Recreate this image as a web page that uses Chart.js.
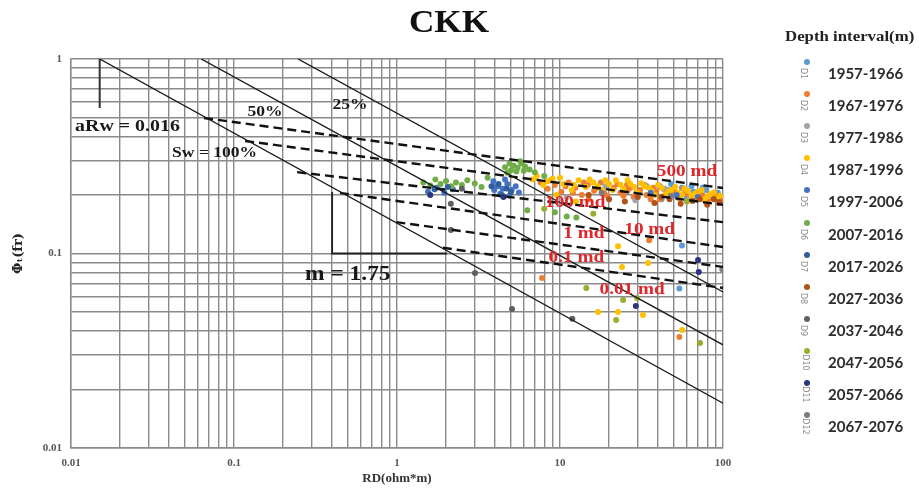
<!DOCTYPE html>
<html>
<head>
<meta charset="utf-8">
<title>CKK Pickett plot</title>
<script src="https://cdn.jsdelivr.net/npm/chart.js@4.4.0/dist/chart.umd.min.js"></script>
<style>
  html, body { margin: 0; padding: 0; background: #fff; }
  #wrap { position: relative; width: 919px; height: 490px; overflow: hidden; }
  #legendTitle {
    position: absolute; left: 785px; top: 29px; white-space: nowrap;
    font: bold 14px "Liberation Serif", serif; color: #222;
    transform: scaleX(1.2); transform-origin: left center;
  }
  .lg-dot { position: absolute; width: 6px; height: 6px; border-radius: 50%; }
  .lg-code {
    position: absolute; font: 8px "DejaVu Sans", sans-serif; color: #8a8a8a;
    transform: rotate(90deg); transform-origin: center center; white-space: nowrap;
  }
  .lg-label {
    position: absolute; font: bold 15px Lato, sans-serif; color: #2b2b2b; white-space: nowrap;
  }
</style>
</head>
<body>
<div id="wrap">
  <canvas id="pickett" width="919" height="490"></canvas>
  <div id="legendTitle">Depth interval(m)</div>
  <div id="legendBox"></div>
</div>
<script>
// depth intervals (legend)
const depthLabels = ["1957-1966", "1967-1976", "1977-1986", "1987-1996", "1997-2006", "2007-2016",
                     "2017-2026", "2027-2036", "2037-2046", "2047-2056", "2057-2066", "2067-2076"];
const depthCodes = ["D1", "D2", "D3", "D4", "D5", "D6", "D7", "D8", "D9", "D10", "D11", "D12"];
const depthColors = ["#5b9bd5", "#ed7d31", "#a5a5a5", "#ffc000", "#4472c4", "#70ad47",
                     "#2f5f9e", "#b0521a", "#5f5f5f", "#9aad2e", "#2a3480", "#7d7d7d"];

// [RD (ohm*m), phi (fr)]
const d01 = [[26,0.215],[30,0.2],[34,0.222],[38,0.205],[42,0.19],[46,0.212],[51,0.2],[56,0.218],[60,0.195],
             [66,0.208],[72,0.2],[79,0.212],[86,0.196],[93,0.205],[48,0.228],[64,0.222],[41,0.222],[75,0.218],
             [56,0.11],[54,0.066]];
const d02 = [[7.6,0.232],[8.4,0.215],[9.3,0.225],[10.2,0.208],[11.3,0.232],[12.4,0.218],[13.6,0.2],[14.8,0.225],
             [16.2,0.21],[17.8,0.232],[19.5,0.198],[21.4,0.218],[23.5,0.205],[25.8,0.226],[28.3,0.195],[31,0.212],
             [34,0.2],[37.5,0.218],[41,0.19],[45,0.205],[49.5,0.212],[54,0.192],[59,0.205],[65,0.188],[71,0.198],
             [78,0.185],[86,0.195],[94,0.182],[26,0.21],[15,0.19],
             [8.8,0.238],[10.8,0.222],[12,0.205],[14,0.232],[17,0.218],[18.6,0.205],[22.5,0.228],[24.5,0.198],
             [27,0.218],[29.5,0.205],[33,0.225],[36,0.19],[39,0.208],[43,0.215],[47,0.198],[52,0.205],[57,0.215],
             [62,0.196],[68,0.205],[75,0.2],[82,0.19],[90,0.2],[97,0.19],
             [7.76,0.0748],[35.2,0.117],[54,0.0372]];
const d03 = [[11,0.195],[19,0.222],[29,0.188],[44,0.215],[62,0.19],[83,0.2]];
const d04 = [[6.8,0.24],[7.9,0.225],[9.0,0.242],[10.5,0.228],[11.8,0.212],[13,0.238],[14.4,0.22],[16,0.232],
             [18,0.212],[20,0.228],[22,0.238],[24.5,0.215],[27,0.228],[30,0.205],[33,0.222],[36.5,0.21],[40,0.225],
             [44,0.2],[48,0.212],[53,0.205],[58,0.215],[64,0.198],[70,0.208],[77,0.19],[84,0.203],[92,0.192],
             [12.5,0.185],[9.5,0.2],
             [7.2,0.25],[8.4,0.235],[10,0.245],[12.2,0.225],[15.2,0.24],[17,0.222],[19,0.238],[21,0.212],
             [23.5,0.226],[26,0.238],[28.5,0.22],[31.5,0.23],[35,0.218],[38,0.2],[42,0.218],[46,0.208],[51,0.22],
             [56,0.2],[61,0.21],[67,0.202],[74,0.212],[80,0.196],[88,0.206],[96,0.198],
             [22.7,0.109],[24,0.0853],[17.1,0.05],[22.7,0.05],[32.3,0.0483],[34.7,0.0894],[56.2,0.0404]];
const d05 = [[1.55,0.208],[1.75,0.218],[1.95,0.205],[2.2,0.214],[3.9,0.235],[4.15,0.222],[4.45,0.215],[4.75,0.228],
             [5.05,0.212],[5.35,0.222],[4.3,0.203],[3.95,0.212],[4.9,0.198],[5.6,0.206],[4.6,0.24],[36,0.205],
             [52,0.2],[70,0.195]];
const d06 = [[1.45,0.232],[1.6,0.224],[1.72,0.24],[1.85,0.228],[2.0,0.236],[2.15,0.222],[2.3,0.232],[2.5,0.225],
             [2.7,0.238],[3.0,0.229],[3.3,0.22],[3.6,0.245],[4.6,0.278],[4.9,0.29],[5.2,0.283],[5.5,0.276],[5.8,0.29],
             [6.1,0.28],[6.5,0.27],[5.0,0.268],[5.4,0.264],[6.0,0.266],[7.0,0.262],[4.75,0.26],[5.7,0.298],[8,0.25],
             [6.3,0.167],[9.3,0.163],[11,0.155],[12.6,0.153]];
const d07 = [[1.7,0.214],[2.05,0.22],[4.4,0.2],[4.7,0.216],[5.0,0.207],[4.2,0.228],[3.8,0.222]];
const d08 = [[15,0.2],[20,0.19],[25,0.185],[30,0.195],[38,0.182],[42,0.196],[47,0.19],[55,0.18],[65,0.186],
             [72,0.19],[80,0.178],[88,0.19],[95,0.184]];
const d09 = [[3.01,0.0794],[5.08,0.0518],[11.9,0.0462],[2.14,0.18],[2.14,0.132],[2.5,0.215]];
const d10 = [[14.5,0.0665],[24.4,0.0577],[29.7,0.059],[22.1,0.0455],[72.3,0.0347],[8,0.17],[16,0.16],[60,0.185]];
const d11 = [[29.2,0.0537],[70.3,0.0926],[71,0.0804],[1.6,0.2],[4.5,0.195]];
const d12 = [[18,0.205],[48,0.198],[99,0.083]];
const depthSeries = [d01, d02, d03, d04, d05, d06, d07, d08, d09, d10, d11, d12];

// Sw lines (100%, 50%, 25%)
const swStartRD = [0.015, 0.0629, 0.247];
const swStartPhi = [1, 1, 1];
const swEndRD = [100, 100, 100];
const swEndPhi = [0.0170, 0.0339, 0.0634];

// permeability lines (500, 100, 10, 1, 0.1, 0.01 md)
const permStartRD = [0.0655, 0.117, 0.244, 0.447, 0.99, 1.91];
const permStartPhi = [0.497, 0.379, 0.262, 0.205, 0.145, 0.107];
const permEndRD = [100, 100, 100, 100, 100, 100];
const permEndPhi = [0.217, 0.178, 0.145, 0.108, 0.0853, 0.0665];

// aRw marker and slope triangle
const aRwRD = [0.015, 0.015];
const aRwPhi = [1, 0.56];
const mRD = [0.40, 0.40, 2.03];
const mPhi = [0.207, 0.1, 0.1];

// text notes
const noteText = ["aRw = 0.016", "Sw = 100%", "50%", "25%", "m = 1.75"];
const noteRD = [0.0106, 0.0417, 0.155, 0.515, 0.273];
const notePhi = [0.447, 0.329, 0.534, 0.58, 0.0775];
const noteAlign = ["left", "left", "center", "center", "left"];
const noteSize = [17, 15, 15, 15, 20];
const mdText = ["500 md", "100 md", "10 md", "1 md", "0.1 md", "0.01 md"];
const mdRD = [60.1, 12.4, 35.5, 14.0, 12.6, 27.7];
const mdPhi = [0.262, 0.182, 0.133, 0.126, 0.0948, 0.065];

// axis ticks
const decadeStarts = [0.01, 0.1, 1, 10];
const decadeSteps = [1, 2, 3, 4, 5, 6, 7, 8, 9];

function logTicks(maxVal) {
    const list = [];
    decadeStarts.forEach(d => {
        decadeSteps.forEach(s => {
            const v = Number((d * s).toPrecision(3));
            if (v <= maxVal) list.push({ value: v });
        });
    });
    if (list[list.length - 1].value < maxVal) list.push({ value: maxVal });
    return list;
}

function isDecade(v) {
    const l = Math.log10(v);
    return Math.abs(l - Math.round(l)) < 1e-9;
}

const pts = arr => arr.map(p => ({ x: p[0], y: p[1] }));

const datasets = [];
// lines go on top of the points (lower order = drawn later)
swStartRD.forEach((v, i) => {
    datasets.push({
        data: [{ x: v, y: swStartPhi[i] }, { x: swEndRD[i], y: swEndPhi[i] }],
        showLine: true, borderColor: "#1b1b1b", borderWidth: 1.4, pointRadius: 0, order: 1
    });
});
permStartRD.forEach((v, i) => {
    datasets.push({
        data: [{ x: v, y: permStartPhi[i] }, { x: permEndRD[i], y: permEndPhi[i] }],
        showLine: true, borderColor: "#111", borderWidth: 2.4, borderDash: [9, 5], pointRadius: 0, order: 1
    });
});
datasets.push({
    data: aRwRD.map((v, i) => ({ x: v, y: aRwPhi[i] })),
    showLine: true, borderColor: "#333", borderWidth: 2, pointRadius: 0, order: 1
});
datasets.push({
    data: mRD.map((v, i) => ({ x: v, y: mPhi[i] })),
    showLine: true, borderColor: "#222", borderWidth: 1.8, pointRadius: 0, order: 1
});
depthSeries.forEach((s, i) => {
    datasets.push({
        label: depthLabels[i],
        data: pts(s),
        showLine: false,
        backgroundColor: depthColors[i],
        borderColor: depthColors[i],
        pointRadius: 3,
        pointBorderWidth: 0,
        order: 30 - i
    });
});

const notesPlugin = {
    id: "notes",
    afterDatasetsDraw(chart) {
        const { ctx } = chart;
        const xs = chart.scales.x, ys = chart.scales.y;
        const put = (text, px, py, align, size, color, sx) => {
            ctx.save();
            ctx.translate(px, py);
            ctx.scale(sx, 1);
            ctx.font = "bold " + size + "px 'Liberation Serif', serif";
            ctx.fillStyle = color;
            ctx.textAlign = align;
            ctx.textBaseline = "middle";
            ctx.fillText(text, 0, 0);
            ctx.restore();
        };
        noteText.forEach((t, i) => {
            put(t, xs.getPixelForValue(noteRD[i]), ys.getPixelForValue(notePhi[i]), noteAlign[i], noteSize[i], "#1a1a1a", 1.17);
        });
        mdText.forEach((t, i) => {
            put(t, xs.getPixelForValue(mdRD[i]), ys.getPixelForValue(mdPhi[i]), "center", 16, "#e0262a", 1.2);
        });
        // chart title
        put("CKK", 449, 24, "center", 32, "#111", 1.1);
    }
};

const tickFont = { family: "'Liberation Serif', serif", size: 11, weight: "bold" };

new Chart(document.getElementById("pickett"), {
    type: "scatter",
    data: { datasets },
    options: {
        responsive: false,
        animation: false,
        devicePixelRatio: 1,
        layout: { padding: { left: 0, right: 196, top: 59, bottom: 0 } },
        plugins: { legend: { display: false }, tooltip: { enabled: false }, title: { display: false } },
        scales: {
            x: {
                type: "logarithmic",
                min: 0.01, max: 100,
                afterBuildTicks: s => { s.ticks = logTicks(100); },
                afterFit: s => { s.height = 42; },
                grid: { color: "#8a8a8a", lineWidth: 1.4, drawTicks: false },
                border: { color: "#8a8a8a", width: 1.4 },
                ticks: {
                    autoSkip: false, maxRotation: 0, padding: 9, color: "#555", font: tickFont,
                    callback: v => (isDecade(v) ? String(v) : "")
                },
                title: {
                    display: true, text: "RD(ohm*m)", color: "#333",
                    font: { family: "'Liberation Serif', serif", size: 13, weight: "bold" },
                    padding: { top: 0, bottom: 4 }
                }
            },
            y: {
                type: "logarithmic",
                min: 0.01, max: 1,
                afterBuildTicks: s => { s.ticks = logTicks(1); },
                afterFit: s => { s.width = 71; },
                grid: { color: "#8a8a8a", lineWidth: 1.4, drawTicks: false },
                border: { color: "#8a8a8a", width: 1.4 },
                ticks: {
                    autoSkip: false, padding: 9, color: "#555", font: tickFont,
                    callback: v => (isDecade(v) ? String(v) : "")
                },
                title: {
                    display: true, text: "Φₜ(fr)", color: "#222",
                    font: { family: "'DejaVu Serif', serif", size: 13, weight: "bold" },
                    padding: { top: 11, bottom: 0 }
                }
            }
        }
    },
    plugins: [notesPlugin]
});

// html legend on the right
const box = document.getElementById("legendBox");
depthLabels.forEach((lab, i) => {
    const yc = 74 + i * 32.1;
    const dot = document.createElement("div");
    dot.className = "lg-dot";
    dot.style.left = "804px";
    dot.style.top = (yc - 15) + "px";
    dot.style.background = depthColors[i];
    box.appendChild(dot);
    const code = document.createElement("div");
    code.className = "lg-code";
    code.textContent = depthCodes[i];
    code.style.left = (800 - depthCodes[i].length) + "px";
    code.style.top = (yc - 5) + "px";
    box.appendChild(code);
    const txt = document.createElement("div");
    txt.className = "lg-label";
    txt.textContent = lab;
    txt.style.left = "828px";
    txt.style.top = (yc - 10) + "px";
    box.appendChild(txt);
});
</script>
</body>
</html>
